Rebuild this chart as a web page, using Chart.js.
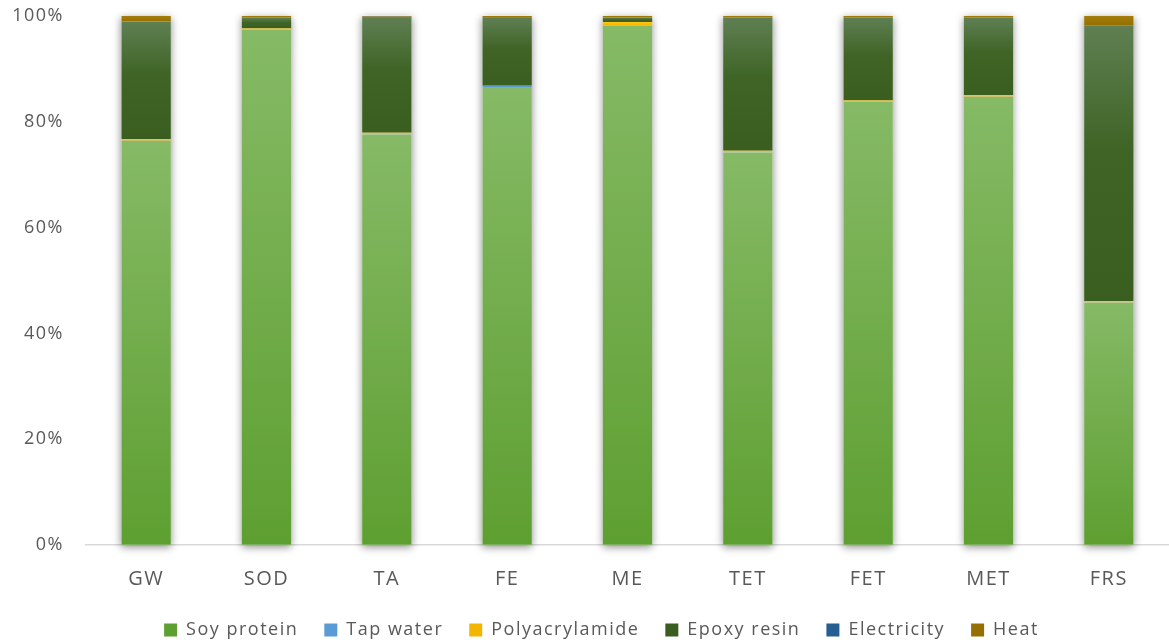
<!DOCTYPE html>
<html>
<head>
<meta charset="utf-8">
<title>Contribution by process input</title>
<style>
  html, body { margin: 0; padding: 0; background: #ffffff; }
  #wrap { width: 1169px; height: 640px; position: relative; }
</style>
<script src="https://cdn.jsdelivr.net/npm/chart.js@4/dist/chart.umd.min.js"></script>
</head>
<body>
<div id="wrap"><canvas id="chart"></canvas></div>
<script>
// Share of each input (%) per adhesive formulation
const categories = ['GW', 'SOD', 'TA', 'FE', 'ME', 'TET', 'FET', 'MET', 'FRS'];
const soyProtein     = [76.4, 97.4, 77.6, 86.6, 98.2, 74.2, 83.8, 84.7, 45.8];
const tapWater       = [0.05, 0.05, 0.05, 0.2, 0.05, 0.05, 0.05, 0.05, 0.05];
const polyacrylamide = [0.3, 0.2, 0.3, 0.0, 0.6, 0.3, 0.2, 0.3, 0.3];
const epoxyResin     = [22.2, 2.0, 21.7, 12.8, 0.8, 25.1, 15.6, 14.6, 52.1];
const electricity    = [0.05, 0.05, 0.2, 0.05, 0.05, 0.05, 0.05, 0.05, 0.05];
const heat           = [1.0, 0.3, 0.2, 0.4, 0.3, 0.3, 0.3, 0.3, 1.7];
const yTicks = [0, 20, 40, 60, 80, 100];

const seriesNames = ['Soy protein', 'Tap water', 'Polyacrylamide', 'Epoxy resin', 'Electricity', 'Heat'];
const seriesData  = [soyProtein, tapWater, polyacrylamide, epoxyResin, electricity, heat];

// Flat colour for the legend, vertical gradient for each bar segment
const fills = [
  { solid: '#70ad47', stops: [[0, '#86ba66'], [1, '#5e9f31']] },
  { solid: '#5b9bd5', stops: [[0, '#6fa8dc'], [1, '#4a8bc6']] },
  { solid: '#ffc000', stops: [[0, '#ffc619'], [1, '#f2b600']] },
  { solid: '#43682b', stops: [[0, '#5f7f52'], [0.45, '#3f6426'], [1, '#3a5e20']] },
  { solid: '#255e91', stops: [[0, '#3a6d9c'], [1, '#22588a']] },
  { solid: '#997300', stops: [[0, '#a47c0a'], [1, '#957000']] }
];

function segmentFill(context) {
  const style = fills[context.datasetIndex];
  if (context.type !== 'data') return style.solid;
  const chart = context.chart;
  const y = chart.scales && chart.scales.y;
  if (!y) return style.solid;
  const ds = chart.data.datasets;
  const i = context.dataIndex;
  let start = 0;
  for (let k = 0; k < context.datasetIndex; k++) start += ds[k].data[i];
  const end = start + ds[context.datasetIndex].data[i];
  const top = y.getPixelForValue(end);
  const bottom = y.getPixelForValue(start);
  if (!(bottom - top > 0.5)) return style.solid;
  const g = chart.ctx.createLinearGradient(0, top, 0, bottom);
  style.stops.forEach(([o, c]) => g.addColorStop(o, c));
  return g;
}

// Soft drop shadow behind each full stacked column
const columnShadow = {
  id: 'columnShadow',
  beforeDatasetsDraw(chart) {
    const metas = chart.getSortedVisibleDatasetMetas();
    if (!metas.length) return;
    const ctx = chart.ctx;
    ctx.save();
    ctx.shadowColor = 'rgba(0, 0, 0, 0.45)';
    ctx.shadowBlur = 8;
    ctx.shadowOffsetX = 0;
    ctx.shadowOffsetY = 2;
    ctx.fillStyle = '#ffffff';
    metas[0].data.forEach((bar, i) => {
      let top = Math.min(bar.y, bar.base);
      const base = Math.max(bar.y, bar.base);
      metas.forEach(m => {
        const el = m.data[i];
        if (el) top = Math.min(top, el.y, el.base);
      });
      ctx.fillRect(bar.x - bar.width / 2, top, bar.width, base - top);
    });
    ctx.restore();
  }
};

// Slightly open letter spacing for all chart text
const textSpacing = {
  id: 'textSpacing',
  beforeUpdate(chart) { chart.ctx.letterSpacing = '1.5px'; },
  beforeDraw(chart) { chart.ctx.letterSpacing = '1.5px'; }
};

// Centre the legend row a little to the right of the canvas middle
const legendOffset = {
  id: 'legendOffset',
  afterUpdate(chart) {
    const lg = chart.legend;
    if (lg) { lg.left += 34; lg.right += 0; }
  }
};

const textColor = '#595959';
const fontFamily = '"Open Sans", "Liberation Sans", sans-serif';
const hidden = 'rgba(0, 0, 0, 0)';

new Chart(document.getElementById('chart'), {
  type: 'bar',
  data: {
    labels: categories,
    datasets: seriesNames.map((name, k) => ({
      label: name,
      data: seriesData[k],
      backgroundColor: segmentFill,
      borderWidth: 0,
      barPercentage: 1,
      categoryPercentage: 0.41
    }))
  },
  plugins: [textSpacing, columnShadow, legendOffset],
  options: {
    responsive: true,
    maintainAspectRatio: false,
    animation: false,
    layout: { padding: { left: 0, right: 0, top: 16, bottom: -9 } },
    scales: {
      x: {
        stacked: true,
        afterFit(scale) { scale.height = 49.8; },
        grid: { display: true, drawOnChartArea: false, drawTicks: true, tickLength: 22, color: hidden },
        border: { display: true, color: '#d9d9d9', width: 1.5 },
        ticks: { color: textColor, font: { family: fontFamily, size: 20 }, padding: 0 }
      },
      y: {
        stacked: true,
        min: 0,
        max: 100,
        afterBuildTicks(scale) { scale.ticks = yTicks.map(v => ({ value: v })); },
        afterFit(scale) { scale.width = 86; },
        grid: { display: true, drawOnChartArea: false, drawTicks: true, tickLength: 22, color: hidden },
        border: { display: false },
        ticks: {
          color: textColor,
          font: { family: fontFamily, size: 18 },
          padding: 0,
          callback: v => v + '%'
        }
      }
    },
    plugins: {
      tooltip: { enabled: false },
      legend: {
        position: 'bottom',
        labels: {
          color: textColor,
          font: { family: fontFamily, size: 18 },
          boxWidth: 13,
          boxHeight: 13,
          padding: 26
        }
      }
    }
  }
});
</script>
</body>
</html>
